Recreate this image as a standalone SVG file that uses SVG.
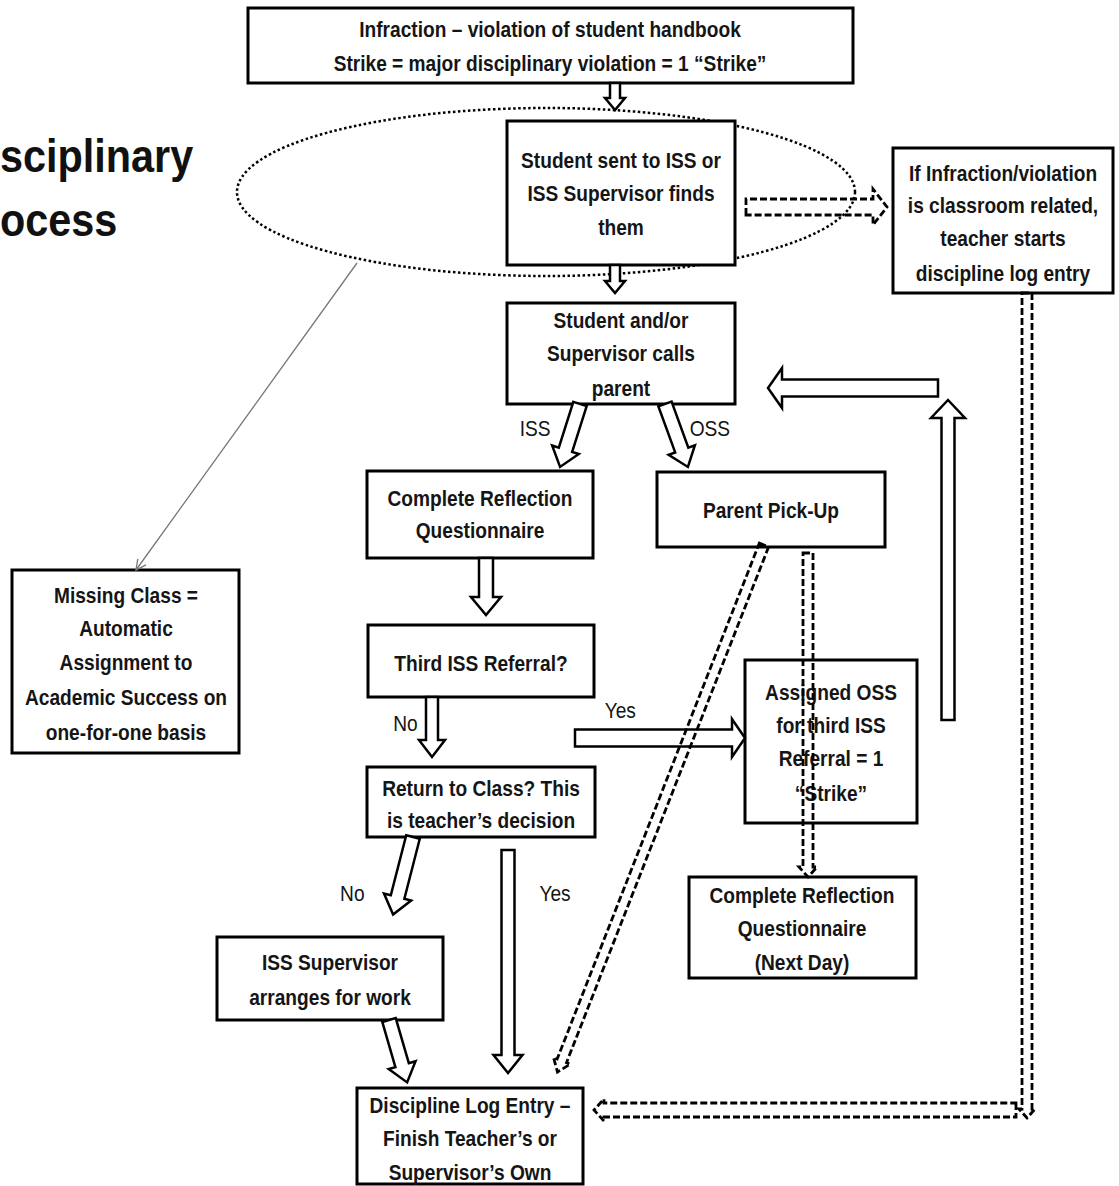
<svg xmlns="http://www.w3.org/2000/svg" width="1119" height="1186" viewBox="0 0 1119 1186">
<style>
.box{fill:#fff;stroke:#000;stroke-width:3}
.t{font-family:"Liberation Sans",Arial,sans-serif;font-weight:bold;font-size:22px;text-anchor:middle;fill:#151515}
.lbl{font-family:"Liberation Sans",Arial,sans-serif;font-size:22px;text-anchor:middle;fill:#151515}
.title{font-family:"Liberation Sans",Arial,sans-serif;font-weight:bold;font-size:46px;fill:#111}
.ba{fill:#fff;stroke:#000;stroke-width:2.5;stroke-linejoin:miter}
.da{fill:none;stroke:#000;stroke-width:2.8;stroke-dasharray:7 3}
.dot{fill:none;stroke:#000;stroke-width:2.5;stroke-dasharray:2.5 2.5}
.thin{fill:none;stroke:#777;stroke-width:1.3}
</style>
<defs>
<marker id="open" viewBox="0 0 12 12" refX="11" refY="6" markerWidth="12" markerHeight="12" markerUnits="userSpaceOnUse" orient="auto">
<path d="M1 1 L11 6 L1 11" fill="none" stroke="#777" stroke-width="1.3"/>
</marker>
</defs>
<rect width="1119" height="1186" fill="#fff"/>

<g id="title" transform="scale(0.9,1)">
<text class="title" x="0" y="172">sciplinary</text>
<text class="title" x="0" y="236">ocess</text>
</g>

<g id="scope-ellipse">
<ellipse class="dot" cx="546" cy="192" rx="309" ry="84"/>
</g>

<g id="n-infraction">
<rect class="box" x="248" y="8" width="605" height="75"/>
<g transform="translate(550,0) scale(0.87,1)">
<text class="t" x="0" y="37">Infraction – violation of student handbook</text>
<text class="t" x="0" y="71">Strike = major disciplinary violation = 1 “Strike”</text>
</g>
</g>

<g id="n-sent">
<rect class="box" x="507" y="121" width="228" height="144"/>
<g transform="translate(621,0) scale(0.87,1)">
<text class="t" x="0" y="168">Student sent to ISS or</text>
<text class="t" x="0" y="201">ISS Supervisor finds</text>
<text class="t" x="0" y="235">them</text>
</g>
</g>

<g id="n-classroom">
<rect class="box" x="893" y="148" width="220" height="145"/>
<g transform="translate(1003,0) scale(0.87,1)">
<text class="t" x="0" y="181">If Infraction/violation</text>
<text class="t" x="0" y="213">is classroom related,</text>
<text class="t" x="0" y="246">teacher starts</text>
<text class="t" x="0" y="281">discipline log entry</text>
</g>
</g>

<g id="n-calls">
<rect class="box" x="507" y="303" width="228" height="101"/>
<g transform="translate(621,0) scale(0.87,1)">
<text class="t" x="0" y="328">Student and/or</text>
<text class="t" x="0" y="361">Supervisor calls</text>
<text class="t" x="0" y="396">parent</text>
</g>
</g>

<g id="n-reflection">
<rect class="box" x="367" y="471" width="226" height="87"/>
<g transform="translate(480,0) scale(0.87,1)">
<text class="t" x="0" y="506">Complete Reflection</text>
<text class="t" x="0" y="538">Questionnaire</text>
</g>
</g>

<g id="n-pickup">
<rect class="box" x="657" y="472" width="228" height="75"/>
<g transform="translate(771,0) scale(0.87,1)">
<text class="t" x="0" y="518">Parent Pick-Up</text>
</g>
</g>

<g id="n-missing">
<rect class="box" x="12" y="570" width="227" height="183"/>
<g transform="translate(126,0) scale(0.87,1)">
<text class="t" x="0" y="603">Missing Class =</text>
<text class="t" x="0" y="636">Automatic</text>
<text class="t" x="0" y="670">Assignment to</text>
<text class="t" x="0" y="705">Academic Success on</text>
<text class="t" x="0" y="740">one-for-one basis</text>
</g>
</g>

<g id="n-third">
<rect class="box" x="368" y="625" width="226" height="72"/>
<g transform="translate(481,0) scale(0.87,1)">
<text class="t" x="0" y="671">Third ISS Referral?</text>
</g>
</g>

<g id="n-assigned">
<rect class="box" x="745" y="660" width="172" height="163"/>
<g transform="translate(831,0) scale(0.87,1)">
<text class="t" x="0" y="700">Assigned OSS</text>
<text class="t" x="0" y="733">for third ISS</text>
<text class="t" x="0" y="766">Referral = 1</text>
<text class="t" x="0" y="801">“Strike”</text>
</g>
</g>

<g id="n-return">
<rect class="box" x="367" y="767" width="228" height="70"/>
<g transform="translate(481,0) scale(0.87,1)">
<text class="t" x="0" y="796">Return to Class? This</text>
<text class="t" x="0" y="828">is teacher’s decision</text>
</g>
</g>

<g id="n-nextday">
<rect class="box" x="689" y="877" width="227" height="101"/>
<g transform="translate(802,0) scale(0.87,1)">
<text class="t" x="0" y="903">Complete Reflection</text>
<text class="t" x="0" y="936">Questionnaire</text>
<text class="t" x="0" y="970">(Next Day)</text>
</g>
</g>

<g id="n-supervisor">
<rect class="box" x="217" y="937" width="226" height="83"/>
<g transform="translate(330,0) scale(0.87,1)">
<text class="t" x="0" y="970">ISS Supervisor</text>
<text class="t" x="0" y="1005">arranges for work</text>
</g>
</g>

<g id="n-log">
<rect class="box" x="357" y="1088" width="226" height="96"/>
<g transform="translate(470,0) scale(0.87,1)">
<text class="t" x="0" y="1113">Discipline Log Entry –</text>
<text class="t" x="0" y="1146">Finish Teacher’s or</text>
<text class="t" x="0" y="1180">Supervisor’s Own</text>
</g>
</g>

<g id="connectors">
<path class="thin" d="M357 263 L136 570" marker-end="url(#open)"/>
<path class="ba" transform="translate(615,83)" d="M-5 0 L5 0 L5 15 L10 15 L0 27 L-10 15 L-5 15 Z"/>
<path class="ba" transform="translate(615,265)" d="M-5 0 L5 0 L5 16 L10 16 L0 28 L-10 16 L-5 16 Z"/>
<path class="ba" transform="translate(580,404) rotate(17.6)" d="M-7 0 L7 0 L7 48 L14 48 L0 66 L-14 48 L-7 48 Z"/>
<path class="ba" transform="translate(665,404) rotate(-20)" d="M-7 0 L7 0 L7 49 L14 49 L0 67 L-14 49 L-7 49 Z"/>
<path class="ba" transform="translate(486,558)" d="M-7 0 L7 0 L7 39 L15 39 L0 57 L-15 39 L-7 39 Z"/>
<path class="ba" transform="translate(432,697)" d="M-6 0 L6 0 L6 43 L13 43 L0 60 L-13 43 L-6 43 Z"/>
<path class="ba" transform="translate(575,738) rotate(-90)" d="M-8.5 0 L8.5 0 L8.5 157 L19 157 L0 170 L-19 157 L-8.5 157 Z"/>
<path class="ba" transform="translate(413,837) rotate(14.4)" d="M-7 0 L7 0 L7 62 L14 62 L0 80 L-14 62 L-7 62 Z"/>
<path class="ba" transform="translate(508,850)" d="M-6.5 0 L6.5 0 L6.5 205 L14.5 205 L0 223 L-14.5 205 L-6.5 205 Z"/>
<path class="ba" transform="translate(389,1020) rotate(-16.2)" d="M-7 0 L7 0 L7 47 L14 47 L0 65 L-14 47 L-7 47 Z"/>
<path class="ba" transform="translate(938,388) rotate(90)" d="M-8.5 0 L8.5 0 L8.5 156 L20 156 L0 170 L-20 156 L-8.5 156 Z"/>
<path class="ba" transform="translate(948,720) rotate(180)" d="M-6.5 0 L6.5 0 L6.5 302 L17 302 L0 320 L-17 302 L-6.5 302 Z"/>
<path class="da" transform="translate(746,207) rotate(-90)" d="M-8 0 L8 0 L8 127 L18 127 L0 141 L-18 127 L-8 127 Z"/>
<path class="da" transform="translate(764,545) rotate(21.4)" d="M-5 0 L5 0 L5 554 L9 554 L0 566 L-9 554 L-5 554 Z"/>
<path class="da" transform="translate(808,553)" d="M-5 0 L5 0 L5 314 L9 314 L0 324 L-9 314 L-5 314 Z"/>
<path class="da" transform="translate(1027,293)" d="M-5 0 L5 0 L5 816 L8 816 L0 825 L-8 816 L-5 816 Z"/>
<path class="da" transform="translate(1016,1110) rotate(90)" d="M-7 0 L7 0 L7 412 L11 412 L0 422 L-11 412 L-7 412 Z"/>
<g transform="scale(0.87,1)">
<text class="lbl" x="615" y="436">ISS</text>
<text class="lbl" x="816" y="436">OSS</text>
<text class="lbl" x="713" y="718">Yes</text>
<text class="lbl" x="466" y="731">No</text>
<text class="lbl" x="405" y="901">No</text>
<text class="lbl" x="638" y="901">Yes</text>
</g>
</g>
</svg>
